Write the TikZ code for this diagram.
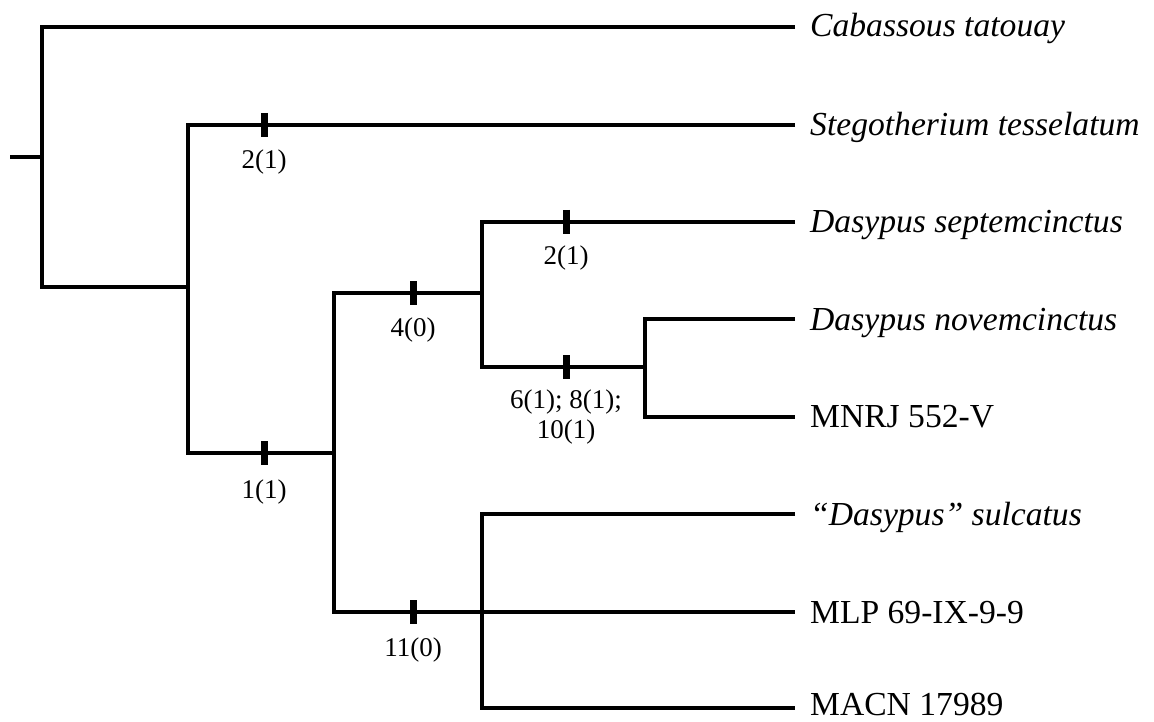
\documentclass[tikz,border=0pt]{standalone}
\usepackage{fontspec}
\setmainfont{Liberation Serif}
\begin{document}
\begin{tikzpicture}[x=1pt,y=-1pt,
  br/.style={line width=4pt, line join=miter},
  tickmark/.style={line width=7pt},
  taxon/.style={anchor=base west, font=\fontsize{33.6}{40}\selectfont, inner sep=0pt},
  chr/.style={font=\fontsize{27}{30}\selectfont, align=center, inner sep=0pt}]
\useasboundingbox (0,0) rectangle (1154,722);
% internal nodes
\coordinate (r) at (10,157);
\coordinate (a) at (42,157);
\coordinate (b) at (188,287);
\coordinate (c) at (334,453);
\coordinate (d) at (482,293);
\coordinate (e) at (645,367);
\coordinate (f) at (482,612);
% tips
\coordinate (t1) at (795,27);
\coordinate (t2) at (795,125);
\coordinate (t3) at (795,222);
\coordinate (t4) at (795,319);
\coordinate (t5) at (795,417);
\coordinate (t7) at (795,514);
\coordinate (t8) at (795,612);
\coordinate (t9) at (795,708);
% taxon labels
\node[taxon] (L1) at (810,37) {\textit{Cabassous tatouay}};
\node[taxon] (L2) at (810,136) {\textit{Stegotherium tesselatum}};
\node[taxon] (L3) at (810,233) {\textit{Dasypus septemcinctus}};
\node[taxon] (L4) at (810,330) {\textit{Dasypus novemcinctus}};
\node[taxon] (L5) at (810,427) {MNRJ 552-V};
\node[taxon] (L7) at (810,525) {\textit{``Dasypus'' sulcatus}};
\node[taxon] (L8) at (810,623) {MLP 69-IX-9-9};
\node[taxon] (L9) at (810,715) {MACN 17989};
% branches
\draw[br] (r) -- (a);
\draw[br] (t1) -| (a) |- (b);
\draw[br] (t2) -| (b) |- (c);
\draw[br] (d) -| (c) |- (f) -- (t8);
\draw[br] (t3) -| (d) |- (e);
\draw[br] (t4) -| (e) |- (t5);
\draw[br] (t7) -| (f) |- (t9);
% character ticks
\draw[tickmark] (264,113) -- (264,137);
\draw[tickmark] (264,441) -- (264,465);
\draw[tickmark] (413,281) -- (413,305);
\draw[tickmark] (566,210) -- (566,234);
\draw[tickmark] (566,355) -- (566,379);
\draw[tickmark] (413,600) -- (413,624);
% character labels
\node[chr] (c1) at (264,162) {2(1)};
\node[chr] (c2) at (264,492) {1(1)};
\node[chr] (c3) at (413,330) {4(0)};
\node[chr] (c4) at (566,258) {2(1)};
\node[chr] (c5) at (566,417) {6(1); 8(1);\\10(1)};
\node[chr] (c6) at (413,650) {11(0)};
\end{tikzpicture}
\end{document}
